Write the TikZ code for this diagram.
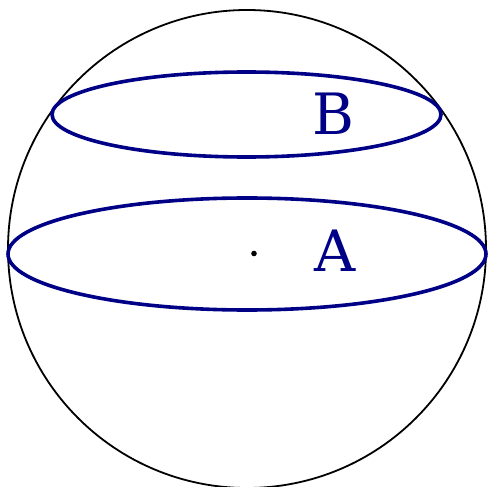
\documentclass[tikz,border=0pt]{standalone}
\usepackage{fontspec}
\setmainfont{DejaVu Serif}
\definecolor{ringblue}{RGB}{0,0,135}
\begin{document}
\begin{tikzpicture}[x=1pt,y=-1pt]
\useasboundingbox (0,0) rectangle (488,487);
\draw[line width=1.8pt] (247,249) circle (239);
\draw[ringblue, line width=3.6pt] (247,254) ellipse (239 and 56);
\draw[ringblue, line width=3.6pt] (246.5,114.5) ellipse (194.5 and 42.5);
\fill (254,253.5) circle (2.8);
\node[ringblue, font=\fontsize{57}{60}\selectfont, inner sep=0pt] (labA) at (335.5,251) {A};
\node[ringblue, font=\fontsize{57}{60}\selectfont, inner sep=0pt] (labB) at (333.5,114) {B};
\end{tikzpicture}
\end{document}
